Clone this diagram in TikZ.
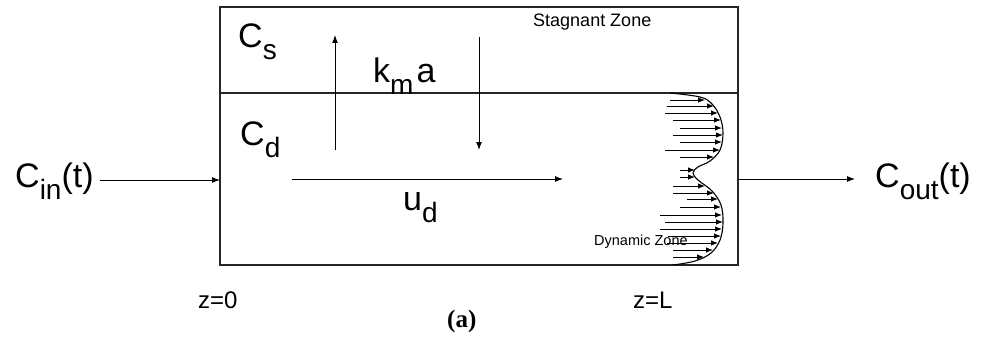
\documentclass[tikz,border=0pt]{standalone}
\usepackage{fontspec}
\setmainfont{Liberation Sans}
\newfontfamily\capfont{Liberation Serif}
\usetikzlibrary{arrows.meta, positioning, calc}

\newcommand{\lowsub}[1]{\raisebox{-12pt}{\fontsize{28}{28}\selectfont #1}}

\begin{document}
\begin{tikzpicture}[
    x=1pt, y=-1pt,
    bigtext/.style={font=\fontsize{34}{34}\selectfont, inner sep=0pt, anchor=base west},
    zonetext/.style={font=\fontsize{18}{18}\selectfont, inner sep=0pt, anchor=base west},
    dyntext/.style={font=\fontsize{14.5}{14.5}\selectfont, inner sep=0pt, anchor=base west},
    postext/.style={font=\fontsize{24}{24}\selectfont, inner sep=0pt, anchor=base west},
    wall/.style={line width=1.4pt, draw=black!85},
    conn/.style={-{Latex[length=8pt,width=6pt]}, line width=1pt},
    flow/.style={-{Latex[length=7pt,width=5.5pt]}, line width=0.9pt}
]
    \useasboundingbox (0,0) rectangle (984,345);

    % Column with its two zones
    \node[wall, minimum width=518pt, minimum height=258pt, inner sep=0pt] (column) at (479,136) {};
    \coordinate (interface) at (220,93);
    \draw[wall] (interface) -- (interface -| column.east);

    % Inlet and outlet
    \node[bigtext] (cin) at (15,187) {C\lowsub{in}(t)};
    \node[bigtext] (cout) at (875,187) {C\lowsub{out}(t)};
    \coordinate (inlet) at (220,180);
    \coordinate (outlet) at (738,179);
    \draw[conn, shorten <=6pt] (cin.east |- inlet) -- (inlet);
    \draw[conn, shorten >=20pt] (outlet) -- (cout.west |- outlet);

    % Concentrations and exchange
    \node[bigtext] (cs) at (238,48) {C\lowsub{s}};
    \node[bigtext] (kma) at (373,82) {k\lowsub{m}\hspace{3pt}a};
    \node[bigtext] (cd) at (240,145) {C\lowsub{d}};
    \node[bigtext] (ud) at (403,210) {u\lowsub{d}};
    \coordinate (upfoot) at (335,150);
    \coordinate (uphead) at (335,35);
    \coordinate (downtop) at (479,37);
    \coordinate (downhead) at (479,150);
    \draw[conn] (upfoot) -- (uphead);
    \draw[conn] (downtop) -- (downhead);
    \coordinate (flowtail) at (292,179);
    \coordinate (flowhead) at (563,179);
    \draw[conn] (flowtail) -- (flowhead);

    % Zone names
    \node[zonetext] (stag) at (533,27) {Stagnant Zone};
    \node[dyntext] (dyn) at (594,245) {Dynamic Zone};

    % Velocity profile
    \draw[line width=1.1pt] plot[smooth, tension=0.6] coordinates {(670,93) (700,97) (712,104) (720,117) (723,133) (720,150) (710,161) (698,167) (693,173) (698,180) (712,191) (721,205) (723,223) (720,240) (711,253) (695,261) (673,265)};
    \foreach \yy/\xs/\xe in {100/670/705, 106/667/714, 113/665/718, 120/673/721, 128/680/722, 135/673/723, 142/680/722, 150/665/720, 157/680/714, 170/680/695, 177/680/695, 186/673/705, 193/673/714, 199/687/718, 207/680/721, 215/660/722, 222/665/723, 229/660/722, 236/668/721, 243/667/718, 250/673/713, 257/673/704}
        \draw[flow] (\xs,\yy) -- (\xe,\yy);

    % Positions and caption
    \node[postext] (z0) at (198,308) {z=0};
    \node[postext] (zL) at (633,308) {z=L};
    \node[font=\capfont\bfseries\fontsize{25}{25}\selectfont, inner sep=0pt, anchor=base west] (fig) at (447,327) {(a)};
\end{tikzpicture}
\end{document}
